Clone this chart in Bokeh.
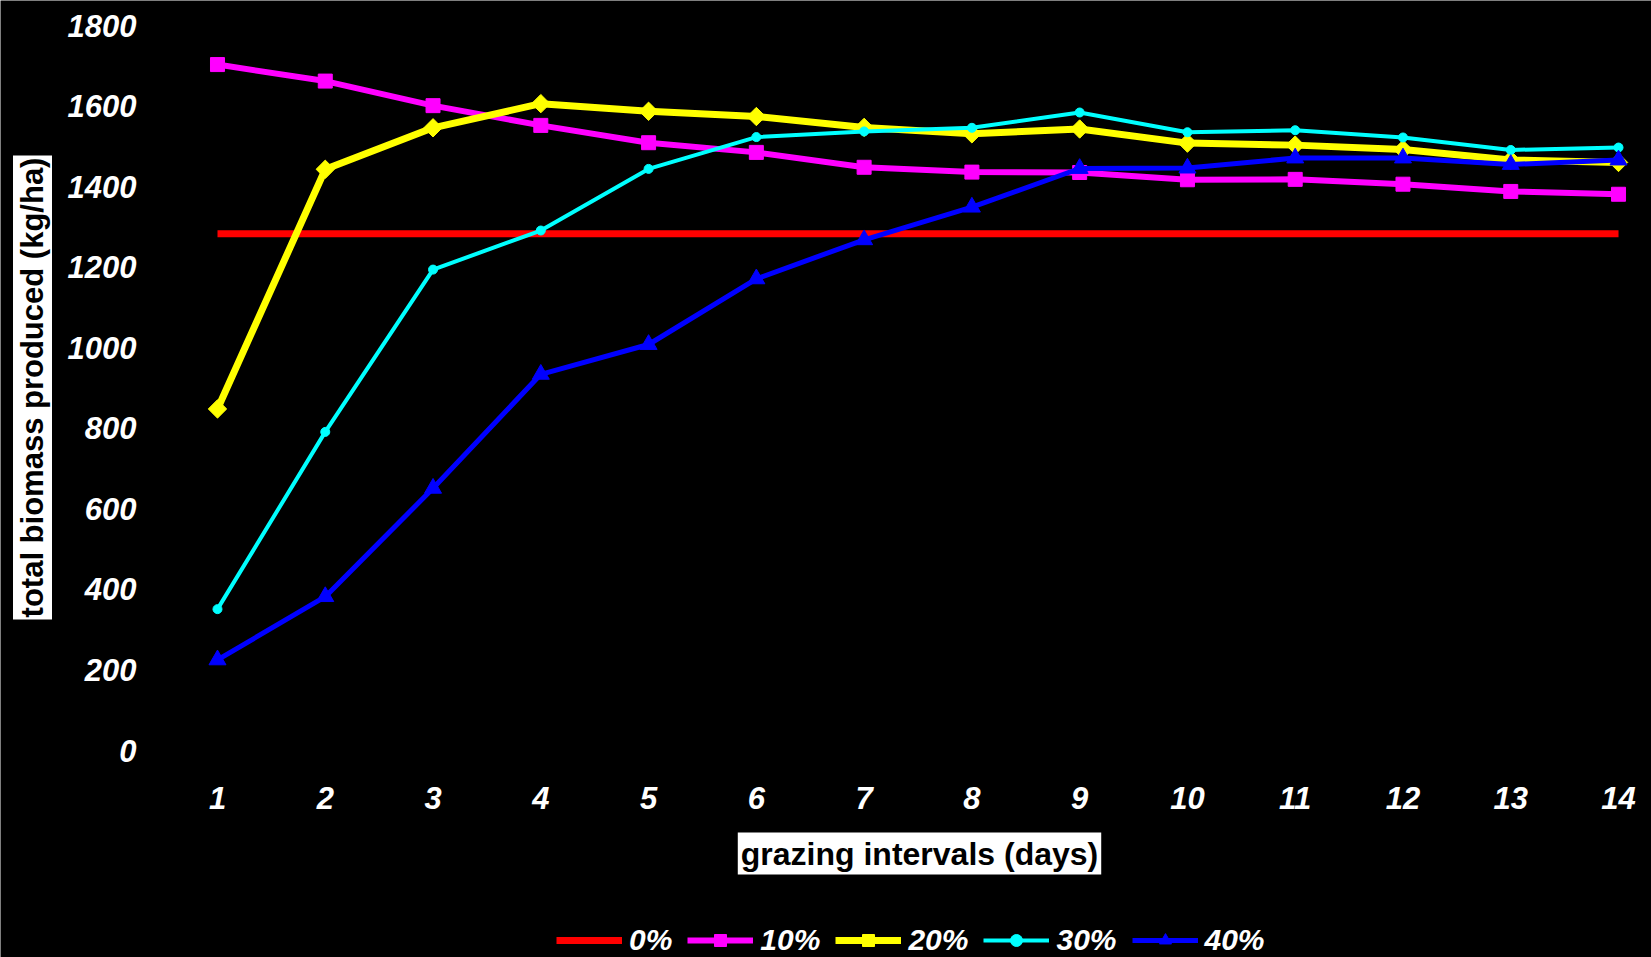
import math
from bokeh.plotting import figure
from bokeh.models import (Range1d, FixedTicker, Legend, LegendItem, Label)
from bokeh.embed import file_html
from bokeh.resources import INLINE

# ---- data ----
days = [1, 2, 3, 4, 5, 6, 7, 8, 9, 10, 11, 12, 13, 14]
p0 = [1283, 1283, 1283, 1283, 1283, 1283, 1283, 1283, 1283, 1283, 1283, 1283, 1283, 1283]
p10 = [1703, 1662, 1601, 1552, 1509, 1485, 1448, 1436, 1435, 1417, 1418, 1406, 1388, 1381]
p20 = [848, 1443, 1546, 1606, 1587, 1574, 1547, 1531, 1543, 1508, 1503, 1492, 1466, 1460]
p30 = [351, 791, 1194, 1291, 1444, 1523, 1537, 1546, 1584, 1535, 1540, 1522, 1491, 1497]
p40 = [225, 382, 651, 934, 1008, 1171, 1268, 1349, 1445, 1446, 1471, 1471, 1455, 1466]
series_labels = ["0%", "10%", "20%", "30%", "40%"]
y_ticks = [0, 200, 400, 600, 800, 1000, 1200, 1400, 1600, 1800]
x_title = "grazing intervals (days)"
y_title = "total biomass produced (kg/ha)"

FONT = "Liberation Sans"
W, H = 1651, 957

# the frame covers the whole canvas; axes are pinned at fixed locations
p = figure(width=W, height=H, output_backend="svg", toolbar_location=None,
           x_range=Range1d(-1.0135, 14.306), y_range=Range1d(-513.93, 1862.07),
           min_border=0)
p.background_fill_color = "black"
p.border_fill_color = "black"
p.outline_line_color = None
p.xgrid.visible = False
p.ygrid.visible = False

for ax in (p.xaxis[0], p.yaxis[0]):
    ax.axis_line_color = None
    ax.major_tick_line_color = None
    ax.minor_tick_line_color = None
    ax.major_tick_out = 0
    ax.major_tick_in = 0
    ax.major_label_text_color = "white"
    ax.major_label_text_font = FONT
    ax.major_label_text_font_style = "bold italic"
    ax.major_label_text_font_size = "31px"

p.xaxis.ticker = FixedTicker(ticks=days)
p.yaxis.ticker = FixedTicker(ticks=y_ticks)
p.xaxis.fixed_location = -24.83
p.yaxis.fixed_location = 0.3783
p.xaxis.major_label_standoff = 26
p.yaxis.major_label_standoff = 14

r0 = p.line(days, p0, line_color="#FF0000", line_width=7)
r10 = p.line(days, p10, line_color="#FF00FF", line_width=6)
m10 = p.scatter(days, p10, marker="square", size=14, fill_color="#FF00FF", line_color="#FF00FF")
r20 = p.line(days, p20, line_color="#FFFF00", line_width=7)
m20 = p.scatter(days, p20, marker="square", angle=math.pi / 4, size=13,
                fill_color="#FFFF00", line_color="#FFFF00")
r30 = p.line(days, p30, line_color="#00FFFF", line_width=4)
m30 = p.scatter(days, p30, marker="circle", size=9, fill_color="#00FFFF", line_color="#00FFFF")
r40 = p.line(days, p40, line_color="#0000FF", line_width=5)
m40 = p.scatter(days, p40, marker="triangle", size=17, fill_color="#0000FF", line_color="#0000FF")

# axis titles with white boxes (screen units from bottom-left of the canvas-sized frame)
xt = Label(x=919, y=104, x_units="screen", y_units="screen", text=x_title,
           text_align="center", text_baseline="middle", text_color="black",
           text_font=FONT, text_font_style="bold", text_font_size="32px",
           background_fill_color="white", padding=3)
yt = Label(x=32, y=570, x_units="screen", y_units="screen", text=y_title,
           angle=math.pi / 2, text_align="center", text_baseline="middle", text_color="black",
           text_font=FONT, text_font_style="bold", text_font_size="31px",
           background_fill_color="white", padding=2)
p.add_layout(xt)
p.add_layout(yt)

legend = Legend(items=[
    LegendItem(label=series_labels[0], renderers=[r0]),
    LegendItem(label=series_labels[1], renderers=[r10, m10]),
    LegendItem(label=series_labels[2], renderers=[r20, m20]),
    LegendItem(label=series_labels[3], renderers=[r30, m30]),
    LegendItem(label=series_labels[4], renderers=[r40, m40]),
], orientation="horizontal", location=(556, 0))
legend.background_fill_alpha = 0
legend.border_line_color = None
legend.padding = 0
legend.margin = 0
legend.spacing = 15
legend.glyph_width = 66
legend.glyph_height = 30
legend.label_standoff = 7
legend.label_text_color = "white"
legend.label_text_font = FONT
legend.label_text_font_style = "bold italic"
legend.label_text_font_size = "30px"
p.add_layout(legend)

open("out.html", "w").write(file_html(p, INLINE))
